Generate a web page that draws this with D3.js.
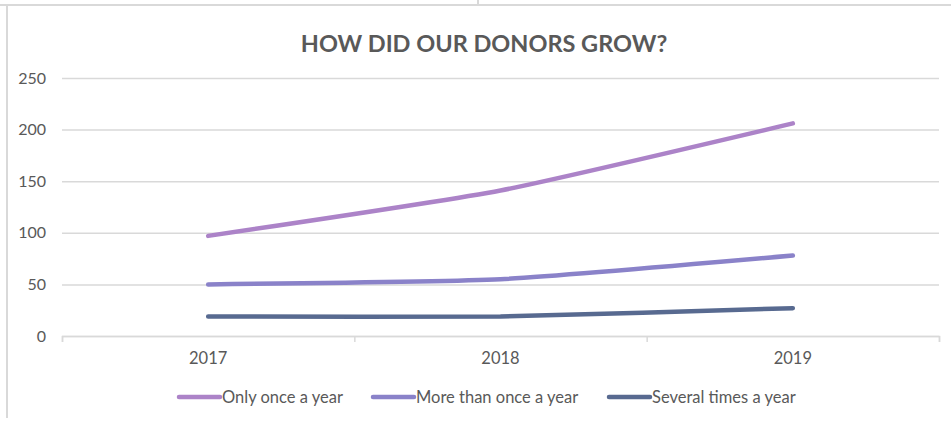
<!DOCTYPE html>
<html>
<head>
<meta charset="utf-8">
<script src="https://cdn.jsdelivr.net/npm/d3@7"></script>
<style>
	body { margin: 0; background: #ffffff; }
	svg { display: block; }
</style>
</head>
<body>
<div id="donors_chart"></div>
<script>
// chart data
const years = ["2017", "2018", "2019"]
const series_names = ["Only once a year", "More than once a year", "Several times a year"]
const only_once = [97, 141, 206]
const more_than_once = [50, 55, 78]
const several_times = [19, 19, 27]
const y_ticks = [0, 50, 100, 150, 200, 250]
const series_colors = ["#ac83c8", "#8a82c9", "#586a90"]

class DonorsGrowth {
	constructor(id) {
		this.width = 951
		this.height = 421
		this.left = 62
		this.right = 939
		this.top = 78
		this.bottom = 336
		this.text_color = "#595959"
		this.grid_color = "#d9d9d9"
		this.font = "Lato, 'Open Sans', sans-serif"
		this.container = document.getElementById(id)
		this.series = [only_once, more_than_once, several_times]
	}

	render() {
		this.svg = d3.select(this.container)
			.append("svg")
			.attr("width", this.width)
			.attr("height", this.height)
		this.render_frame()
		this.render_title()
		this.render_axes()
		this.render_lines()
		this.render_legend()
	}

	render_frame() {
		const frame = this.svg.append("g").attr("stroke", this.grid_color).attr("stroke-width", 2)
		frame.append("line").attr("x1", 0).attr("x2", this.width).attr("y1", 5).attr("y2", 5)
		frame.append("line").attr("x1", 7).attr("x2", 7).attr("y1", 5).attr("y2", 418)
		frame.append("line").attr("x1", 478).attr("x2", 478).attr("y1", 0).attr("y2", 5)
	}

	render_title() {
		this.svg.append("text")
			.attr("x", 484)
			.attr("y", 52)
			.attr("text-anchor", "middle")
			.attr("font-family", this.font)
			.attr("font-weight", "bold")
			.attr("font-size", 23.5)
			.attr("fill", this.text_color)
			.text("HOW DID OUR DONORS GROW?")
	}

	render_axes() {
		this.x_scale = d3.scaleBand()
			.domain(years)
			.range([this.left, this.right])

		this.y_scale = d3.scaleLinear()
			.domain([0, 250])
			.range([this.bottom, this.top])

		// horizontal gridlines + y labels
		const y_axis = d3.axisLeft(this.y_scale)
			.tickValues(y_ticks)
			.tickSize(-(this.right - this.left))
			.tickPadding(16)

		const gy = this.svg.append("g")
			.attr("transform", `translate(${this.left},0)`)
			.call(y_axis)
		gy.select(".domain").remove()
		gy.selectAll(".tick line").attr("stroke", this.grid_color).attr("stroke-width", 1.5)
		gy.selectAll(".tick text")
			.attr("fill", this.text_color)
			.attr("font-family", this.font)
			.attr("font-size", 16)

		// x axis line with ticks between categories
		const x_ticks = d3.axisBottom(d3.scaleLinear().domain([0, years.length]).range([this.left, this.right]))
			.ticks(years.length)
			.tickSize(6)
			.tickFormat("")
		const gx = this.svg.append("g")
			.attr("transform", `translate(0,${this.bottom})`)
			.call(x_ticks)
		gx.selectAll("path, line").attr("stroke", this.grid_color).attr("stroke-width", 1.5)

		const x_axis = d3.axisBottom(this.x_scale).tickSize(0).tickPadding(16)
		const gl = this.svg.append("g")
			.attr("transform", `translate(0,${this.bottom})`)
			.call(x_axis)
		gl.select(".domain").remove()
		gl.selectAll(".tick text")
			.attr("fill", this.text_color)
			.attr("font-family", this.font)
			.attr("font-size", 16.5)
	}

	render_lines() {
		const line = d3.line()
			.x((d, i) => this.x_scale(years[i]) + this.x_scale.bandwidth() / 2)
			.y(d => this.y_scale(d))
			.curve(d3.curveCardinal.tension(0.5))

		this.svg.append("g")
			.selectAll("path")
			.data(this.series)
			.join("path")
			.attr("d", line)
			.attr("fill", "none")
			.attr("stroke", (d, i) => series_colors[i])
			.attr("stroke-width", 4.5)
			.attr("stroke-linecap", "round")
	}

	render_legend() {
		const legend_x = [179, 373, 609]
		const legend_y = 397
		const legend = this.svg.append("g")
		series_names.forEach((name, i) => {
			legend.append("line")
				.attr("x1", legend_x[i])
				.attr("x2", legend_x[i] + 41)
				.attr("y1", legend_y)
				.attr("y2", legend_y)
				.attr("stroke", series_colors[i])
				.attr("stroke-width", 4.5)
				.attr("stroke-linecap", "round")
			legend.append("text")
				.attr("x", legend_x[i] + 43)
				.attr("y", legend_y)
				.attr("dy", "0.35em")
				.attr("font-family", this.font)
				.attr("font-size", 16.5)
				.attr("fill", this.text_color)
				.text(name)
		})
	}
}

new DonorsGrowth("donors_chart").render()
</script>
</body>
</html>
